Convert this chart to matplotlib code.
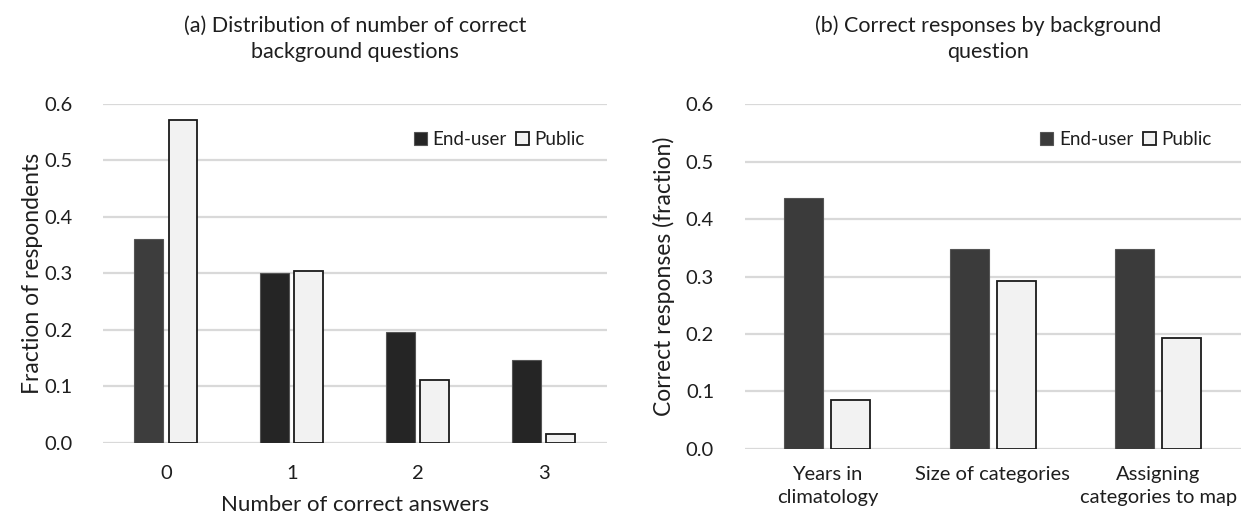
import matplotlib.pyplot as plt
import numpy as np

plt.rcParams["font.family"] = ["Lato", "DejaVu Sans"]

# (a) distribution of number of correct background answers
n_correct = ["0", "1", "2", "3"]
a_end_user = [0.361, 0.300, 0.197, 0.146]
a_public = [0.572, 0.305, 0.111, 0.016]

# (b) correct responses per background question
questions = ["Years in\nclimatology", "Size of categories", "Assigning\ncategories to map"]
b_end_user = [0.436, 0.348, 0.348]
b_public = [0.086, 0.292, 0.193]

y_ticks = [0.0, 0.1, 0.2, 0.3, 0.4, 0.5, 0.6]

DARK = "#252525"
DARK_B = "#3b3b3b"
LIGHT = "#f2f2f2"
GRID = "#d9d9d9"
TEXT = "#1e1e1e"


def style_axes(ax):
    for s in ax.spines.values():
        s.set_visible(False)
    ax.set_ylim(0, 0.6)
    ax.set_yticks(y_ticks)
    ax.set_yticklabels([f"{t:.1f}" for t in y_ticks])
    ax.yaxis.grid(True, color=GRID, linewidth=1.6)
    ax.set_axisbelow(True)
    ax.tick_params(length=0, labelsize=14.5, colors=TEXT, pad=16)
    ax.tick_params(axis="y", pad=22)


def add_legend(ax, handles, anchor):
    ax.legend(handles, ["End-user", "Public"], loc="upper right",
              bbox_to_anchor=anchor, ncol=2, frameon=False, fontsize=13.5,
              handlelength=0.7, handleheight=0.7, handletextpad=0.3,
              columnspacing=0.5, labelcolor=TEXT)


fig = plt.figure(figsize=(12.41, 5.16), dpi=100)

# panel (a)
ax1 = fig.add_axes([0.083, 0.1415, 0.406, 0.657])
x = np.arange(len(n_correct))
w, off = 0.23, 0.135
eu_colors = ["#3d3d3d"] + [DARK] * (len(n_correct) - 1)
b1 = ax1.bar(x - off, a_end_user, w, color=eu_colors, edgecolor="#555555", linewidth=0.8)
b2 = ax1.bar(x + off, a_public, w, color=LIGHT, edgecolor="#1a1a1a", linewidth=1.3)
ax1.set_xlim(-0.5, len(n_correct) - 0.5)
ax1.set_xticks(x)
ax1.set_xticklabels(n_correct)
style_axes(ax1)
ax1.set_ylabel("Fraction of respondents", fontsize=16.5, color=TEXT, labelpad=1)
ax1.set_xlabel("Number of correct answers", fontsize=16, color=TEXT, labelpad=9)
ax1.set_title("(a) Distribution of number of correct\nbackground questions",
              fontsize=15.5, color=TEXT, pad=33, linespacing=1.4)
add_legend(ax1, [b1[1], b2[0]], (0.99, 0.97))

# panel (b)
ax2 = fig.add_axes([0.600, 0.130, 0.400, 0.668])
x = np.arange(len(questions))
w, off = 0.236, 0.142
c1 = ax2.bar(x - off, b_end_user, w, color=DARK_B, edgecolor="#555555", linewidth=0.8)
c2 = ax2.bar(x + off, b_public, w, color=LIGHT, edgecolor="#1a1a1a", linewidth=1.3)
ax2.set_xlim(-0.5, len(questions) - 0.5)
ax2.set_xticks(x)
ax2.set_xticklabels(questions, linespacing=1.45)
style_axes(ax2)
ax2.tick_params(axis="x", pad=12)
ax2.set_ylabel("Correct responses (fraction)", fontsize=16.5, color=TEXT, labelpad=8)
ax2.set_title("(b) Correct responses by background\nquestion",
              fontsize=15.5, color=TEXT, pad=33, linespacing=1.4, x=0.49)
add_legend(ax2, [c1[0], c2[0]], (0.975, 0.97))

fig.savefig("out.png", dpi=100, facecolor="white")
